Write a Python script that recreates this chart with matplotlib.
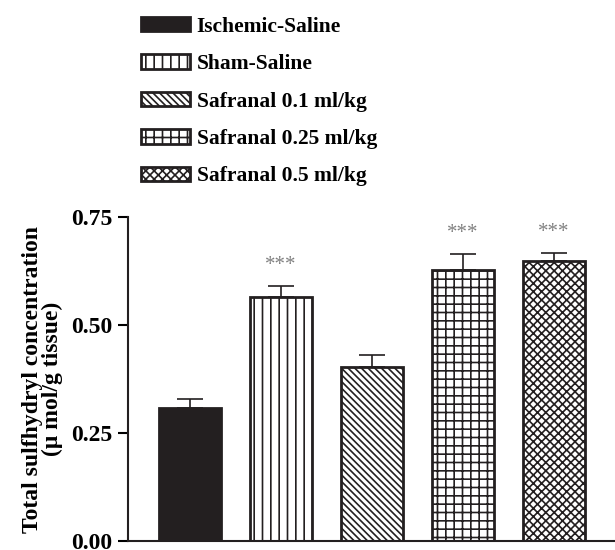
import matplotlib
matplotlib.use('Agg')
import matplotlib.pyplot as plt

plt.rcParams['font.family'] = ['Liberation Serif', 'DejaVu Serif']
plt.rcParams['font.weight'] = 'bold'
plt.rcParams['hatch.linewidth'] = 1.2

# data
groups = ['Ischemic-Saline', 'Sham-Saline', 'Safranal 0.1 ml/kg',
          'Safranal 0.25 ml/kg', 'Safranal 0.5 ml/kg']
means = [0.309, 0.566, 0.404, 0.628, 0.649]
sems = [0.021, 0.025, 0.026, 0.037, 0.018]
stars = ['', '***', '', '***', '***']
y_ticks = [0.00, 0.25, 0.50, 0.75]

hatches = ['', '||', '\\\\\\\\\\', '++', 'xxxx']
faces = ['#231f20', 'white', 'white', 'white', 'white']

fig = plt.figure(figsize=(6.15, 5.5), dpi=100)
ax = fig.add_axes([0.208, 0.016, 0.792, 0.589])

x = list(range(len(groups)))
bars = ax.bar(x, means, width=0.68, color=faces, edgecolor='#231f20',
              linewidth=2)
for b, h in zip(bars, hatches):
    b.set_hatch(h)

ax.errorbar(x, means, yerr=[[0] * len(means), sems], fmt='none',
            ecolor='#231f20', elinewidth=1.2, capsize=9.5, capthick=1.2)

for xi, m, s, st in zip(x, means, sems, stars):
    if st:
        ax.text(xi, m + s + 0.025, st, ha='center', va='bottom',
                fontsize=15, color='#808080', fontweight='normal')

ax.set_xlim(-0.68, 4.67)
ax.set_ylim(0, 0.75)
ax.set_yticks(y_ticks)
ax.set_yticklabels(['%.2f' % t for t in y_ticks], fontsize=17, fontweight='bold')
ax.set_xticks([])
ax.tick_params(axis='y', length=7, width=1.5, direction='out', pad=4)
for side in ['top', 'right']:
    ax.spines[side].set_visible(False)
for side in ['left', 'bottom']:
    ax.spines[side].set_linewidth(1.5)
    ax.spines[side].set_color('#231f20')

ax.set_ylabel('Total sulfhydryl concentration\n(\u03bc mol/g tissue)',
              fontsize=17, fontweight='bold', labelpad=6, linespacing=0.92)

fig.legend(handles=list(bars), labels=groups, loc='upper left',
           bbox_to_anchor=(0.198, 1.005), frameon=False,
           handlelength=2.25, handleheight=0.65, handletextpad=0.33,
           labelspacing=0.81, prop={'weight': 'bold', 'size': 15.5})

fig.savefig('out.png', dpi=100)
